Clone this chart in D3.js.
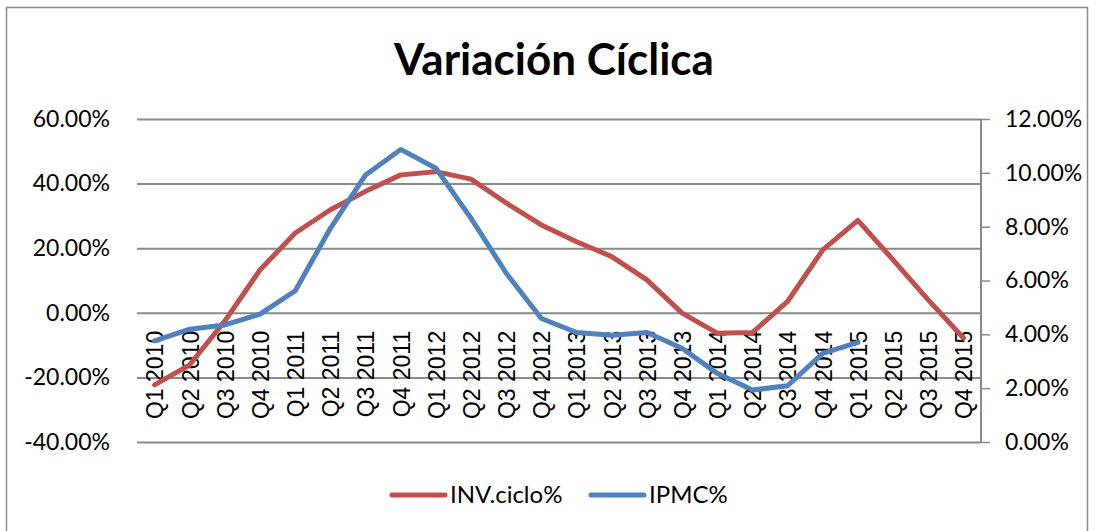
<!DOCTYPE html>
<html><head><meta charset="utf-8">
<script src="https://cdn.jsdelivr.net/npm/d3@7"></script>
<style>body{margin:0;background:#fff}svg{display:block}</style>
</head><body>
<svg id="c" width="1096" height="531"></svg>
<script>
const categories = ["Q1 2010","Q2 2010","Q3 2010","Q4 2010","Q1 2011","Q2 2011","Q3 2011","Q4 2011",
  "Q1 2012","Q2 2012","Q3 2012","Q4 2012","Q1 2013","Q2 2013","Q3 2013","Q4 2013",
  "Q1 2014","Q2 2014","Q3 2014","Q4 2014","Q1 2015","Q2 2015","Q3 2015","Q4 2015"];
const invCiclo = [-22.3,-16.1,-2.5,13.3,24.7,31.9,37.6,42.7,43.7,41.4,34.0,27.2,
  22.0,17.4,10.2,-0.1,-6.3,-6.1,3.5,19.5,28.6,16.4,4.0,-7.8];
const ipmc = [3.76,4.19,4.35,4.75,5.62,7.94,9.92,10.87,10.17,8.31,6.27,4.59,
  4.07,3.97,4.07,3.48,2.55,1.93,2.09,3.29,3.70];
const leftTicks = [-40,-20,0,20,40,60];
const rightTicks = [0,2,4,6,8,10,12];
const seriesNames = ["INV.ciclo%","IPMC%"];
const colors = ["#C0504D","#4F81BD"];
const titleText = "Variación Cíclica";

const svg = d3.select("#c");
const L = 137, R = 981, T = 119, B = 442;
const x = d3.scalePoint().domain(categories).range([L,R]).padding(0.5);
const yL = d3.scaleLinear().domain([-40,60]).range([B,T]);
const yR = d3.scaleLinear().domain([0,12]).range([B,T]);
const lblFont = "Lato, 'Open Sans', sans-serif";
const pct = d => d.toFixed(2) + "%";

// outer border
svg.append("rect").attr("x",6.5).attr("y",7.5).attr("width",1081).attr("height",540)
  .attr("fill","none").attr("stroke","#8c8c8c").attr("stroke-width",1.5);

// title
svg.append("text").attr("x",554).attr("y",75).attr("text-anchor","middle")
  .attr("font-family",lblFont).attr("font-weight","bold").attr("font-size",44)
  .text(titleText);

// grid + left labels
const gl = svg.append("g").attr("transform",`translate(${L},0)`)
  .call(d3.axisLeft(yL).tickValues(leftTicks).tickSize(-(R-L)).tickFormat(pct));
gl.select(".domain").remove();
gl.selectAll(".tick line").attr("stroke","#8a8a8a").attr("stroke-width",2);
gl.selectAll(".tick text").attr("x",-27).attr("font-family",lblFont).attr("font-size",23).attr("fill","#000");

// right axis
const gr = svg.append("g").attr("transform",`translate(${R},0)`)
  .call(d3.axisRight(yR).tickValues(rightTicks).tickSize(9).tickFormat(pct));
gr.select(".domain").attr("stroke","#8a8a8a").attr("stroke-width",2).attr("d",`M0,${T}V${B}`);
gr.selectAll(".tick line").attr("stroke","#8a8a8a").attr("stroke-width",1.5);
gr.selectAll(".tick text").attr("x",24).attr("font-family",lblFont).attr("font-size",23).attr("fill","#000");

// category labels
const gx = svg.append("g").attr("transform",`translate(0,${yL(0)})`)
  .call(d3.axisBottom(x).tickSize(0));
gx.select(".domain").remove();
gx.selectAll(".tick text").attr("x",0).attr("y",0).attr("dy","0.36em")
  .attr("transform","translate(0,18) rotate(-90)").attr("text-anchor","end")
  .attr("font-family","'Liberation Sans', Arial, sans-serif").attr("font-size",23).attr("fill","#000");

// lines
const lineL = d3.line().x((d,i)=>x(categories[i])).y(d=>yL(d));
const lineR = d3.line().x((d,i)=>x(categories[i])).y(d=>yR(d));
svg.append("path").datum(invCiclo).attr("d",lineL).attr("fill","none")
  .attr("stroke",colors[0]).attr("stroke-width",5).attr("stroke-linejoin","round").attr("stroke-linecap","round");
svg.append("path").datum(ipmc).attr("d",lineR).attr("fill","none")
  .attr("stroke",colors[1]).attr("stroke-width",5).attr("stroke-linejoin","round").attr("stroke-linecap","round");

// legend
const lg = [{x:392,tx:450},{x:591,tx:649}];
seriesNames.forEach((n,i)=>{
  svg.append("line").attr("x1",lg[i].x).attr("x2",lg[i].x+53).attr("y1",495).attr("y2",495)
    .attr("stroke",colors[i]).attr("stroke-width",5).attr("stroke-linecap","round");
  svg.append("text").attr("x",lg[i].tx).attr("y",503).attr("font-family",lblFont)
    .attr("font-size",24).text(n);
});
</script>
</body></html>
